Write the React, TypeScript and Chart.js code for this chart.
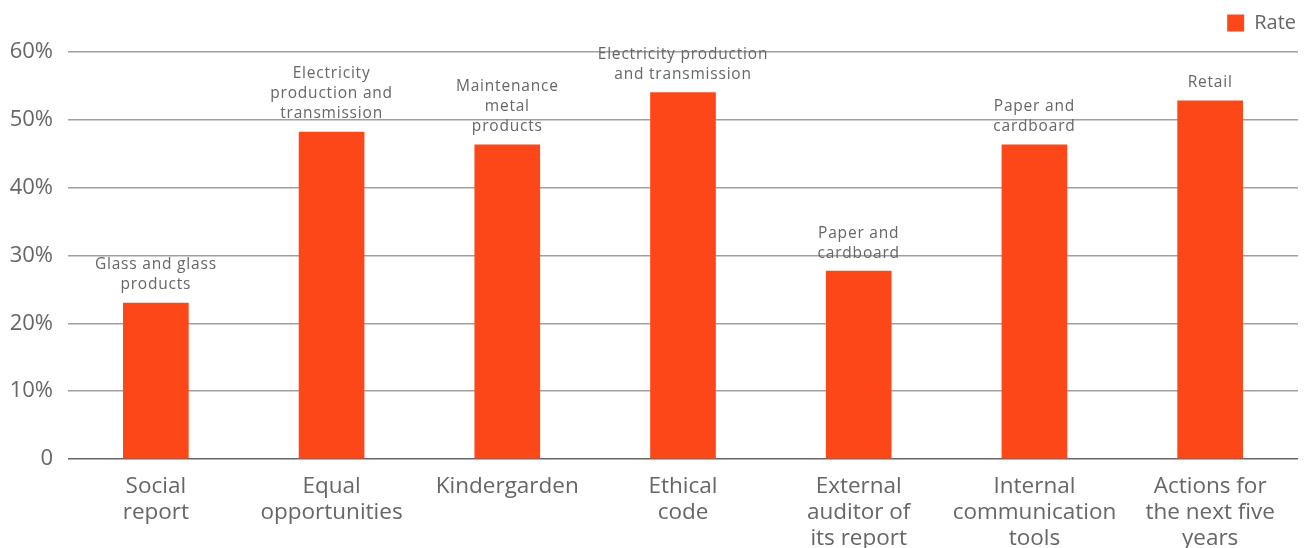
import React, { useEffect, useRef } from "react";
import { Chart, registerables } from "chart.js";

Chart.register(...registerables);

const categories: string[][] = [
  ["Social", "report"],
  ["Equal", "opportunities"],
  ["Kindergarden"],
  ["Ethical", "code"],
  ["External", "auditor of", "its report"],
  ["Internal", "communication", "tools"],
  ["Actions for", "the next five", "years"],
];

const rateValues: number[] = [23, 48.2, 46.3, 54, 27.7, 46.3, 52.8];

const barLabels: string[][] = [
  ["Glass and glass", "products"],
  ["Electricity", "production and", "transmission"],
  ["Maintenance", "metal", "products"],
  ["Electricity production", "and transmission"],
  ["Paper and", "cardboard"],
  ["Paper and", "cardboard"],
  ["Retail"],
];

const yTicks: number[] = [0, 10, 20, 30, 40, 50, 60];

const FONT = "'Open Sans', sans-serif";
const TEXT = "#666666";
const BAR = "#fc4718";

const barLabelPlugin = {
  id: "barLabelPlugin",
  afterDatasetsDraw(chart: any) {
    const ctx = chart.ctx;
    const meta = chart.getDatasetMeta(0);
    ctx.save();
    ctx.font = `15.5px ${FONT}`;
    try {
      (ctx as any).letterSpacing = "0.8px";
    } catch (e) {}
    ctx.fillStyle = TEXT;
    ctx.textAlign = "center";
    ctx.textBaseline = "middle";
    meta.data.forEach((bar: any, i: number) => {
      const lines = barLabels[i] || [];
      const n = lines.length;
      lines.forEach((line, j) => {
        const y = bar.y - 18 - (n - 1 - j) * 20;
        ctx.fillText(line, bar.x, y);
      });
    });
    ctx.restore();
  },
};

const legendSpacePlugin = {
  id: "legendSpacePlugin",
  afterInit(chart: any) {
    const legend = chart.legend;
    if (!legend) return;
    const origFit = legend.fit;
    legend.fit = function () {
      origFit.call(this);
      this.height += 9;
    };
  },
};

export default function App() {
  const canvasRef = useRef<HTMLCanvasElement | null>(null);

  useEffect(() => {
    if (!canvasRef.current) return;
    const chart = new Chart(canvasRef.current, {
      type: "bar",
      data: {
        labels: categories,
        datasets: [
          {
            label: "Rate",
            data: rateValues,
            backgroundColor: BAR,
            borderWidth: 0,
            barThickness: 65,
          },
        ],
      },
      plugins: [legendSpacePlugin, barLabelPlugin],
      options: {
        animation: false,
        responsive: false,
        maintainAspectRatio: false,
        layout: { padding: { left: 7, right: 7, top: 11, bottom: -19 } },
        plugins: {
          tooltip: { enabled: false },
          legend: {
            position: "top",
            align: "end",
            labels: {
              boxWidth: 17,
              boxHeight: 17,
              color: TEXT,
              font: { family: FONT, size: 20 },
              padding: 2,
            },
          },
        },
        scales: {
          x: {
            grid: { display: false, drawTicks: false },
            border: { display: false },
            ticks: {
              color: TEXT,
              font: { family: FONT, size: 22.5, lineHeight: 1.155 },
              padding: 15,
              maxRotation: 0,
              autoSkip: false,
            },
          },
          y: {
            min: 0,
            max: 60,
            afterBuildTicks(axis: any) {
              axis.ticks = yTicks.map((v) => ({ value: v }));
            },
            afterFit(axis: any) {
              axis.width = 61;
            },
            grid: {
              drawTicks: false,
              color: (c: any) => (c.tick && c.tick.value === 0 ? "#666666" : "#a0a0a0"),
              lineWidth: 1.5,
            },
            border: { display: false },
            ticks: {
              color: TEXT,
              font: { family: FONT, size: 22 },
              padding: 15,
              callback: (v: any) => (Number(v) === 0 ? "0" : `${v}%`),
            },
          },
        },
      },
    });
    return () => chart.destroy();
  }, []);

  return (
    <div style={{ position: "absolute", left: 0, top: 0, width: 1305, height: 548, background: "#fff" }}>
      <canvas ref={canvasRef} width={1305} height={548} />
    </div>
  );
}
